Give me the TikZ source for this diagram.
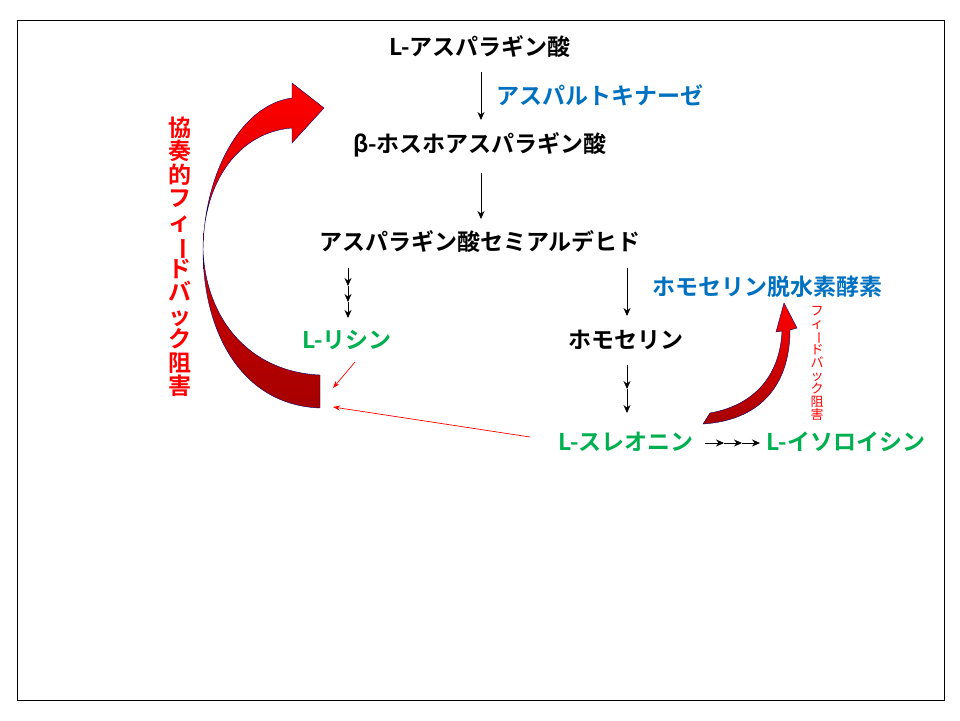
\documentclass[tikz,border=0pt]{standalone}
\usepackage{fontspec}
\setmainfont{Noto Sans CJK JP}[BoldFont={* Bold}]
\usepackage{graphicx}
\usetikzlibrary{arrows.meta}
\definecolor{eblue}{RGB}{0,112,192}
\definecolor{pgreen}{RGB}{0,176,80}
\tikzset{
 lbl/.style={font=\bfseries\fontsize{23}{26}\selectfont,inner sep=0pt},
 stp/.style={-{Stealth[length=8pt,width=7pt]},black,line width=0.9pt},
 rthin/.style={-{Stealth[length=7pt,width=5pt]},red,line width=0.7pt},
 bigarr/.style={top color=red,bottom color=red!65!black,draw=blue!40!black,line width=0.4pt}
}
\newcommand{\vbar}{\rotatebox[origin=c]{-90}{ー}}
\begin{document}
\begin{tikzpicture}[x=1pt,y=-1pt]
\useasboundingbox (0,0) rectangle (960,720);
\draw[line width=0.8pt] (17,20) rectangle (944,700);
\node[lbl] (asp) at (480,47) {L-アスパラギン酸};
\node[lbl,text=eblue] (ak) at (600,95) {アスパルトキナーゼ};
\node[lbl] (pasp) at (480,145) {β-ホスホアスパラギン酸};
\node[lbl] (asa) at (480,242) {アスパラギン酸セミアルデヒド};
\node[lbl,text=eblue] (hdh) at (767,287) {ホモセリン脱水素酵素};
\node[lbl,text=pgreen] (lys) at (347,340) {L-リシン};
\node[lbl] (hse) at (626,340) {ホモセリン};
\node[lbl,text=pgreen] (thr) at (626,442) {L-スレオニン};
\node[lbl,text=pgreen] (ile) at (846,442) {L-イソロイシン};
\coordinate (a1) at (481,72); \coordinate (a2) at (481,120);
\draw[stp] (a1) -- (a2);
\coordinate (b1) at (481,173); \coordinate (b2) at (481,219);
\draw[stp] (b1) -- (b2);
\coordinate (l1) at (348,268); \coordinate (l2) at (348,286); \coordinate (l3) at (348,302); \coordinate (l4) at (348,318);
\draw[stp] (l1) -- (l2); \draw[stp] (l2) -- (l3); \draw[stp] (l3) -- (l4);
\coordinate (h1) at (627,268); \coordinate (h2) at (627,316);
\draw[stp] (h1) -- (h2);
\coordinate (t1) at (627,365); \coordinate (t2) at (627,389); \coordinate (t3) at (627,413);
\draw[stp] (t1) -- (t2); \draw[stp] (t2) -- (t3);
\coordinate (i1) at (705,443); \coordinate (i2) at (724,443); \coordinate (i3) at (742,443); \coordinate (i4) at (760,443);
\draw[stp] (i1) -- (i2); \draw[stp] (i2) -- (i3); \draw[stp] (i3) -- (i4);
\coordinate (r1) at (355,362); \coordinate (r2) at (333,388);
\draw[rthin] (r1) -- (r2);
\coordinate (r3) at (530,437); \coordinate (r4) at (333,407);
\draw[rthin] (r3) -- (r4);
% big curved arrow
\path[bigarr] (320,408) .. controls (240,405) and (203,330) .. (203,250)
  .. controls (203,180) and (240,132) .. (292,128) -- (292,143) -- (324,108) -- (292,83) -- (292,98)
  .. controls (240,105) and (204,175) .. (203,250)
  .. controls (206,320) and (250,372) .. (320,375) -- cycle;
% small curved arrow
\path[bigarr] (703,424) .. controls (765,420) and (790,380) .. (790,330)
  -- (797,328) -- (784,303) -- (776,332) -- (782,331)
  .. controls (780,375) and (755,405) .. (710,413) -- cycle;
\node[text=red,font=\bfseries\fontsize{23}{26}\selectfont,align=center,inner sep=0pt] (v1) at (180,257)
 {協\\[-2.5pt]奏\\[-2.5pt]的\\[-2.5pt]フ\\[-2.5pt]ィ\\[-2.5pt]\vbar\\[-2.5pt]ド\\[-2.5pt]バ\\[-2.5pt]ッ\\[-2.5pt]ク\\[-2.5pt]阻\\[-2.5pt]害};
\node[text=red,font=\fontsize{13}{14}\selectfont,align=center,inner sep=0pt] (v2) at (817,363)
 {フ\\[-1pt]ィ\\[-1pt]\vbar\\[-1pt]ド\\[-1pt]バ\\[-1pt]ッ\\[-1pt]ク\\[-1pt]阻\\[-1pt]害};
\end{tikzpicture}
\end{document}
